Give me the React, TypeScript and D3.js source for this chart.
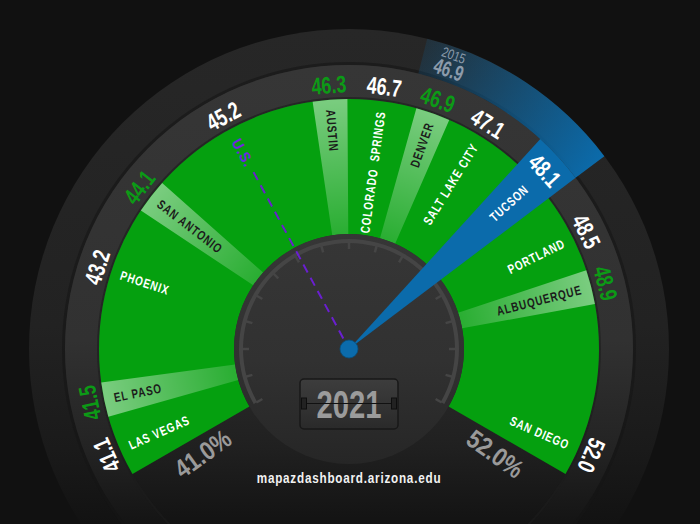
import React from 'react';
import * as d3 from 'd3';

// chart data
const names = ['LAS VEGAS', 'EL PASO', 'PHOENIX', 'SAN ANTONIO', 'U.S.', 'AUSTIN', 'COLORADO  SPRINGS', 'DENVER', 'SALT LAKE CITY', 'TUCSON', 'PORTLAND', 'ALBUQUERQUE', 'SAN DIEGO'];
const values = [41.1, 41.5, 43.2, 44.1, 45.2, 46.3, 46.7, 46.9, 47.1, 48.1, 48.5, 48.9, 52.0];
const scaleDomain = [41.0, 52.0];
const scaleLabels = ['41.0%', '52.0%'];
const selected = 'TUCSON';
const benchmark = 'U.S.';
const priorYear = '2015';
const priorValue = 46.9;
const currentYear = '2021';
const source = 'mapazdashboard.arizona.edu';

const W = 700, H = 524;
const cx = 349, cy = 349;
const R_OUTER = 320, R_RING = 284, R_GREEN = 250, R_DIAL = 115;
// no condensed face installed, so text is squeezed horizontally
const FONT = "'Liberation Sans', Arial, sans-serif";
const GREEN = '#05a00f';
const BLUE = '#0b6bab';

const angle = d3.scaleLinear().domain(scaleDomain).range([-120, 120]);
const rad = (d: number) => (d * Math.PI) / 180;
const pt = (r: number, deg: number) => [r * Math.sin(rad(deg)), -r * Math.cos(rad(deg))];
const tf = (x: number, y: number, rot: number, sx: number) => `translate(${x},${y}) rotate(${rot}) scale(${sx},1)`;

// push labels apart so they do not overlap on the ring
function spread(vals: number[]) {
  const [a0, a1] = angle.range();
  const lo = a0 + 6.3, hi = a1 - 6.3;
  const pos: number[] = [];
  vals.forEach((v, i) => {
    let a = Math.max(angle(v), lo);
    if (i > 0) {
      const g = names[i] === selected || names[i - 1] === selected ? 16 : 12;
      a = Math.max(a, pos[i - 1] + g);
    }
    pos.push(Math.min(a, hi));
  });
  return pos;
}

const pos = spread(values);
const posScale = d3.scaleLinear().domain(values).range(pos);

const arc = d3.arc<any>();
const wedge = (r0: number, r1: number, s: number, e: number) =>
  arc({ innerRadius: r0, outerRadius: r1, startAngle: rad(s), endAngle: rad(e) }) as string;

export default function App() {
  const selIdx = names.indexOf(selected);
  const usIdx = names.indexOf(benchmark);
  const selA = pos[selIdx];
  const usA = pos[usIdx];
  const priorA = posScale(priorValue);
  const bandHalf = 4;
  const selHalf = 5.3;
  const priorStart = priorA - 5.5;
  const priorEnd = selA + selHalf;
  const [gx1, gy1] = pt(R_OUTER, priorStart);
  const [gx2, gy2] = pt(R_OUTER, priorEnd);

  const ticks = d3.range(17).map(i => d3.scaleLinear().domain([0, 16]).range(angle.range())(i));

  return (
    <div style={{ position: 'fixed', left: 0, top: 0, width: W, height: H, background: '#111' }}>
      <svg width={W} height={H} style={{ display: 'block' }}>
        <defs>
          <linearGradient id="gOuter" gradientUnits="userSpaceOnUse" x1="0" y1={-R_OUTER} x2="0" y2={H - cy}>
            <stop offset="0" stopColor="#272727" />
            <stop offset="0.6" stopColor="#222" />
            <stop offset="0.85" stopColor="#1a1a1a" />
            <stop offset="1" stopColor="#121212" />
          </linearGradient>
          <linearGradient id="gRing" gradientUnits="userSpaceOnUse" x1="0" y1={-R_RING} x2="0" y2={H - cy}>
            <stop offset="0" stopColor="#363636" />
            <stop offset="0.6" stopColor="#313131" />
            <stop offset="0.84" stopColor="#232323" />
            <stop offset="1" stopColor="#141414" />
          </linearGradient>
          <linearGradient id="gInner" gradientUnits="userSpaceOnUse" x1="0" y1={-R_GREEN} x2="0" y2={H - cy}>
            <stop offset="0" stopColor="#2f2f2f" />
            <stop offset="0.6" stopColor="#2b2b2b" />
            <stop offset="0.82" stopColor="#202020" />
            <stop offset="1" stopColor="#131313" />
          </linearGradient>
          <linearGradient id="gDial" gradientUnits="userSpaceOnUse" x1="0" y1={-R_DIAL} x2="0" y2={R_DIAL}>
            <stop offset="0" stopColor="#363636" />
            <stop offset="0.55" stopColor="#313131" />
            <stop offset="1" stopColor="#262626" />
          </linearGradient>
          <radialGradient id="gBand" gradientUnits="userSpaceOnUse" cx="0" cy="0" r={R_GREEN}>
            <stop offset="0.45" stopColor="#fff" stopOpacity="0.14" />
            <stop offset="1" stopColor="#fff" stopOpacity="0.47" />
          </radialGradient>
          <linearGradient id="gPrior" gradientUnits="userSpaceOnUse" x1={gx1} y1={gy1} x2={gx2} y2={gy2}>
            <stop offset="0" stopColor={BLUE} stopOpacity="0.15" />
            <stop offset="1" stopColor={BLUE} stopOpacity="1" />
          </linearGradient>
          <linearGradient id="gYear" x1="0" y1="0" x2="0" y2="1">
            <stop offset="0" stopColor="#3d3d3d" />
            <stop offset="1" stopColor="#2a2a2a" />
          </linearGradient>
        </defs>

        <g transform={`translate(${cx},${cy})`}>
          {/* body rings */}
          <circle r={R_OUTER} fill="url(#gOuter)" />
          <circle r={R_RING + 1.5} fill="none" stroke="#161616" strokeOpacity={0.6} strokeWidth={3} />
          <circle r={R_RING} fill="url(#gRing)" />
          <circle r={R_GREEN} fill="url(#gInner)" />
          <circle r={R_GREEN + 1} fill="none" stroke="#1c1c1c" strokeOpacity={0.6} strokeWidth={2} />

          {/* green scale */}
          <path d={wedge(R_DIAL, R_GREEN, angle.range()[0], angle.range()[1])} fill={GREEN} />
          {pos.map((a, i) =>
            i % 2 === 1 && names[i] !== selected ? (
              <path key={'b' + i} d={wedge(R_DIAL, R_GREEN, a - bandHalf, a + bandHalf)} fill="url(#gBand)" />
            ) : null
          )}

          {/* dial */}
          <circle r={R_DIAL} fill="url(#gDial)" />
          <path d={wedge(106, 110, angle.range()[0], angle.range()[1])} fill="#454545" />
          {ticks.map((a, i) => {
            const [x1, y1] = pt(100, a);
            const [x2, y2] = pt(107, a);
            return <line key={'t' + i} x1={x1} y1={y1} x2={x2} y2={y2} stroke="#454545" strokeWidth={2.5} />;
          })}

          {/* year box */}
          <g transform="translate(0,55)">
            <rect x={-49} y={-25} width={98} height={50} rx={4} fill="url(#gYear)" stroke="#181818" strokeWidth={1.5} />
            <text transform={tf(0, 0, 0, 0.75)} dy="0.36em" textAnchor="middle" fontFamily={FONT} fontWeight="bold" fontSize={39} fill="#9b9b9b">
              {currentYear}
            </text>
            <line x1={-45} x2={45} y1={-0.5} y2={-0.5} stroke="#111" strokeWidth={1} />
            <rect x={-47.5} y={-6} width={5} height={11} fill="#222" stroke="#0e0e0e" strokeWidth={1} />
            <rect x={42.5} y={-6} width={5} height={11} fill="#222" stroke="#0e0e0e" strokeWidth={1} />
          </g>

          {/* prior year band */}
          <path d={wedge(R_RING, R_OUTER, priorStart, priorEnd)} fill="url(#gPrior)" />

          {/* selected city needle */}
          <path d={wedge(0, R_RING, selA - selHalf, selA + selHalf)} fill={BLUE} />

          {/* benchmark line */}
          {(() => {
            const [x1, y1] = pt(12, usA);
            const [x2, y2] = pt(204, usA);
            const [lx, ly] = pt(238, usA);
            return (
              <g>
                <line x1={x1} y1={y1} x2={x2} y2={y2} stroke="#6a1fd0" strokeWidth={2} strokeDasharray="9 6" />
                <text transform={tf(lx, ly, usA + 90, 0.9)} dy="0.36em" textAnchor="start"
                  fontFamily={FONT} fontWeight="bold" fontSize={15} letterSpacing={1} fill="#7322e6">
                  {benchmark}
                </text>
              </g>
            );
          })()}

          <circle r={9} fill={BLUE} stroke="#08507f" strokeWidth={0.8} />

          {/* city names */}
          {pos.map((a, i) => {
            if (names[i] === benchmark) return null;
            const [x, y] = pt(240, a);
            const left = a < 0;
            const dark = i % 2 === 1 && names[i] !== selected;
            return (
              <text key={'n' + i} transform={tf(x, y, left ? a + 90 : a - 90, 0.76)} dy="0.36em"
                textAnchor={left ? 'start' : 'end'} fontFamily={FONT} fontWeight="bold" fontSize={13}
                letterSpacing={1.2} fill={dark ? '#1b1b1b' : '#fff'} style={{ whiteSpace: 'pre' }}>
                {names[i]}
              </text>
            );
          })}

          {/* values on the ring */}
          {pos.map((a, i) => {
            const [x, y] = pt(265, a);
            const green = i % 2 === 1 && names[i] !== selected;
            return (
              <text key={'v' + i} transform={tf(x, y, a, 0.74)} dy="0.36em" textAnchor="middle"
                fontFamily={FONT} fontWeight="bold" fontSize={24} fill={green ? '#0c9a16' : '#fff'}>
                {values[i].toFixed(1)}
              </text>
            );
          })}

          {/* prior labels */}
          {(() => {
            const [x1, y1] = pt(312, priorA);
            const [x2, y2] = pt(297, priorA);
            return (
              <g fill="#8c9bab" fontFamily={FONT} textAnchor="middle">
                <text transform={tf(x1, y1, priorA, 0.78)} dy="0.36em" fontSize={14}>{priorYear}</text>
                <text transform={tf(x2, y2, priorA, 0.7)} dy="0.36em" fontSize={22} fontWeight="bold">{priorValue.toFixed(1)}</text>
              </g>
            );
          })()}

          {/* scale end labels */}
          {scaleDomain.map((v, i) => {
            const a = angle(v) + (i === 0 ? -5.5 : 5.5);
            const [x, y] = pt(180, a);
            return (
              <text key={'s' + i} transform={tf(x, y, i === 0 ? a + 90 : a - 90, 0.85)} dy="0.36em"
                textAnchor="middle" fontFamily={FONT} fontWeight="bold" fontSize={26} fill="#9a9a9a">
                {scaleLabels[i]}
              </text>
            );
          })}

          <text transform={tf(0, 129, 0, 0.78)} dy="0.36em" textAnchor="middle" fontFamily={FONT} fontWeight="bold" fontSize={15}
            letterSpacing={1} fill="#f2f2f2">
            {source}
          </text>
        </g>
      </svg>
    </div>
  );
}
